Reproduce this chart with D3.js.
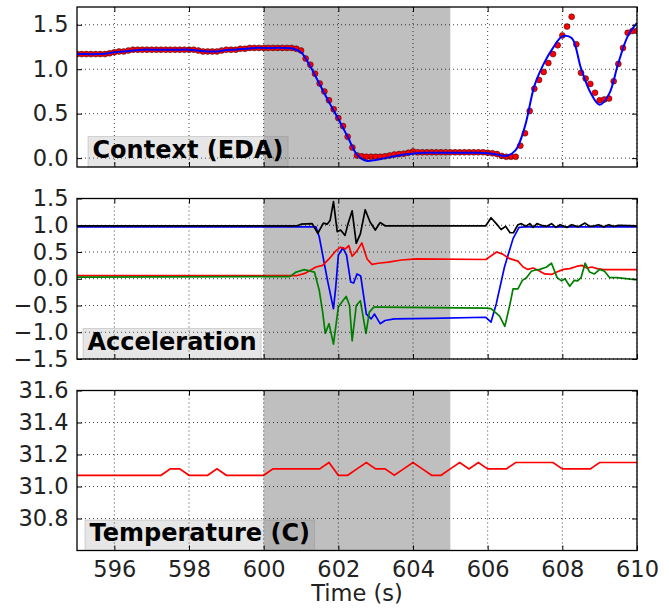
<!DOCTYPE html>
<html>
<head>
<meta charset="utf-8">
<script src="https://cdn.jsdelivr.net/npm/d3@7"></script>
<style>
  body { margin: 0; background: #fff; }
  svg text { font-family: "DejaVu Sans", sans-serif; }
</style>
</head>
<body>
<div id="chart"></div>
<script>
// ---- data ----
const xTicks = [596, 598, 600, 602, 604, 606, 608, 610];
const shadeSpan = [600, 605];

const edaTicks = [0.0, 0.5, 1.0, 1.5];
const accTicks = [-1.5, -1.0, -0.5, 0.0, 0.5, 1.0, 1.5];
const tempTicks = [30.8, 31.0, 31.2, 31.4, 31.6];

// raw EDA samples, 8 Hz starting at 595 s
const edaStart = 595;
const edaRate = 8;
const edaRaw = [
  1.17, 1.17, 1.17, 1.17, 1.17, 1.17, 1.17, 1.18,
  1.19, 1.20, 1.20, 1.21, 1.22, 1.22, 1.22, 1.22,
  1.22, 1.22, 1.22, 1.22, 1.22, 1.22, 1.22, 1.22,
  1.22, 1.22, 1.21, 1.20, 1.20, 1.20, 1.20, 1.21,
  1.22, 1.22, 1.22, 1.23, 1.23, 1.24, 1.24, 1.24,
  1.24, 1.24, 1.24, 1.24, 1.24, 1.24, 1.24, 1.23,
  1.21, 1.12, 1.05, 0.95, 0.84, 0.75, 0.65, 0.55,
  0.45, 0.36, 0.24, 0.12, 0.03, 0.02, 0.015, 0.015,
  0.015, 0.015, 0.02, 0.03, 0.04, 0.045, 0.05, 0.06,
  0.075, 0.065, 0.065, 0.065, 0.065, 0.065, 0.065, 0.065,
  0.065, 0.065, 0.065, 0.065, 0.065, 0.065, 0.065, 0.065,
  0.06, 0.055, 0.045, 0.025, 0.015, 0.015, 0.015, 0.14,
  0.28, 0.53, 0.78, 0.88, 0.97, 1.07, 1.17, 1.27,
  1.38, 1.48, 1.59, 1.28, 0.96, 0.895, 0.835, 0.735,
  0.65, 0.66, 0.67, 0.865, 1.06, 1.24, 1.41, 1.43,
  1.43
];

// smoothed EDA, 4 Hz
const edaSmoothRate = 4;
const edaSmooth = [
  1.17, 1.17, 1.17, 1.175,
  1.19, 1.20, 1.21, 1.22,
  1.22, 1.22, 1.22, 1.22,
  1.22, 1.21, 1.20, 1.20,
  1.215, 1.22, 1.23, 1.24,
  1.24, 1.24, 1.24, 1.235,
  1.19, 1.03, 0.83, 0.63,
  0.44, 0.24, 0.04, -0.03,
  -0.02, 0.0, 0.02, 0.04,
  0.05, 0.06, 0.06, 0.06,
  0.06, 0.06, 0.06, 0.06,
  0.055, 0.04, 0.025, 0.09,
  0.36, 0.81, 1.06, 1.24,
  1.37, 1.35, 1.01, 0.74,
  0.60, 0.72, 1.07, 1.37,
  1.52
];

// acceleration, [time, g]
const accMag = [
  [595, 0.99], [600.9, 0.99], [601.0, 1.02], [601.3, 1.03], [601.45, 0.85], [601.6, 1.04],
  [601.7, 1.02], [601.78, 1.09], [601.87, 1.44], [601.97, 0.88], [602.06, 0.91], [602.18, 0.81],
  [602.26, 1.03], [602.37, 1.27], [602.48, 0.66], [602.59, 0.84], [602.72, 1.29], [602.85, 1.06],
  [602.99, 0.91], [603.12, 1.05], [603.25, 0.99], [605.95, 0.99], [606.09, 1.14], [606.23, 1.03],
  [606.36, 0.92], [606.48, 0.98], [606.6, 0.86], [606.69, 0.86], [606.81, 1.01], [606.9, 1.03],
  [607.02, 0.98], [607.13, 1.03], [607.22, 0.96], [607.32, 1.03], [607.44, 1.0], [607.58, 0.98],
  [607.71, 1.03], [607.83, 0.96], [607.94, 1.01], [608.12, 0.96], [608.25, 1.01], [608.43, 0.97],
  [608.61, 1.04], [608.73, 0.98], [608.86, 0.99], [608.97, 1.01], [609.11, 0.97], [609.24, 1.01],
  [609.38, 0.98], [609.51, 1.0], [610, 0.99]
];
const accZ = [
  [595, 0.97], [601.4, 0.97], [601.49, 0.78], [601.71, -0.03], [601.87, -0.56], [601.93, -0.16],
  [602.0, 0.44], [602.12, 0.58], [602.22, 0.44], [602.33, -0.06], [602.41, -0.08], [602.5, 0.09],
  [602.6, 0.05], [602.75, -0.66], [602.88, -0.75], [602.97, -0.66], [603.12, -0.84], [603.25, -0.78],
  [603.5, -0.75], [604.5, -0.74], [605.95, -0.72], [606.09, -0.81], [606.23, -0.47], [606.45, 0.22],
  [606.68, 0.75], [606.84, 0.96], [607.0, 0.97], [610, 0.97]
];
const accX = [
  [595, 0.06], [600.9, 0.06], [601.1, 0.1], [601.4, 0.22], [601.58, 0.25], [601.75, 0.37],
  [601.93, 0.52], [602.06, 0.59], [602.19, 0.56], [602.28, 0.62], [602.37, 0.42], [602.5, 0.52],
  [602.63, 0.67], [602.77, 0.37], [602.9, 0.27], [603.07, 0.29], [603.34, 0.31], [603.69, 0.35],
  [604.1, 0.37], [605.95, 0.36], [606.24, 0.5], [606.4, 0.46], [606.59, 0.375], [606.81, 0.33],
  [606.95, 0.22], [607.08, 0.175], [607.22, 0.2], [607.35, 0.16], [607.53, 0.09], [607.71, 0.08],
  [607.85, 0.125], [608.03, 0.175], [608.2, 0.19], [608.38, 0.23], [608.52, 0.25], [608.66, 0.2],
  [608.79, 0.22], [608.93, 0.19], [609.11, 0.17], [610, 0.17]
];
const accY = [
  [595, 0.03], [600.7, 0.04], [600.87, 0.125], [601.09, 0.17], [601.36, 0.125], [601.49, -0.22],
  [601.58, -0.625], [601.65, -1.02], [601.75, -0.84], [601.87, -1.22], [602.0, -0.53], [602.12, -0.41],
  [602.21, -0.33], [602.3, -0.5], [602.37, -1.16], [602.48, -0.5], [602.59, -0.41], [602.74, -1.02],
  [602.83, -0.625], [602.95, -0.53], [603.12, -0.53], [605.95, -0.55], [606.09, -0.56], [606.32, -0.7],
  [606.46, -0.89], [606.59, -0.5], [606.68, -0.19], [606.81, -0.19], [606.93, -0.03], [607.04, 0.02],
  [607.17, 0.14], [607.26, 0.16], [607.4, 0.175], [607.58, 0.22], [607.71, 0.29], [607.86, 0.02],
  [607.98, -0.04], [608.07, 0.0], [608.2, -0.14], [608.32, -0.03], [608.41, -0.04], [608.5, 0.02],
  [608.61, 0.29], [608.73, 0.125], [608.86, 0.09], [609.0, 0.175], [609.13, 0.14], [609.27, 0.02],
  [609.47, 0.02], [610, -0.02]
];

// skin temperature, 4 Hz from 595 s
const tempRate = 4;
const temp = [
  31.07, 31.07, 31.07, 31.07, 31.07, 31.07, 31.07, 31.07, 31.07, 31.07,
  31.11, 31.11, 31.07, 31.07, 31.07, 31.11, 31.07, 31.07, 31.07, 31.07, 31.07,
  31.11, 31.11, 31.11, 31.11, 31.11, 31.11,
  31.15,
  31.07, 31.07, 31.11, 31.15,
  31.11, 31.11, 31.07, 31.11,
  31.15, 31.11, 31.07, 31.07,
  31.11, 31.15, 31.11, 31.15,
  31.11, 31.11, 31.11, 31.15,
  31.15, 31.15, 31.15, 31.15,
  31.11, 31.11, 31.11, 31.11,
  31.15, 31.15, 31.15, 31.15, 31.15
];

// ---- chart ----
const width = 669, height = 610;
const fontSize = 22.5;

const x = d3.scaleLinear().domain([595, 610]).range([77, 637]);

const svg = d3.select("#chart")
    .append("svg")
    .attr("width", width)
    .attr("height", height);

const drawEda = (g, y) => {
    g.append("g")
        .selectAll("circle")
        .data(edaRaw)
        .join("circle")
        .attr("cx", (d, i) => x(edaStart + i / edaRate))
        .attr("cy", d => y(d))
        .attr("r", 3)
        .attr("fill", "#ff0000")
        .attr("stroke", "#000")
        .attr("stroke-opacity", 0.6)
        .attr("stroke-width", 0.7);

    const line = d3.line()
        .x((d, i) => x(edaStart + i / edaSmoothRate))
        .y(d => y(d))
        .curve(d3.curveCatmullRom.alpha(0.5));

    g.append("path")
        .datum(edaSmooth)
        .attr("fill", "none")
        .attr("stroke", "#0000ff")
        .attr("stroke-width", 2)
        .attr("d", line);
};

const drawAcc = (g, y) => {
    const line = d3.line()
        .x(d => x(d[0]))
        .y(d => y(d[1]));

    const series = [
        {data: accZ, color: "#0000ff"},
        {data: accMag, color: "#000000"},
        {data: accX, color: "#ff0000"},
        {data: accY, color: "#008000"}
    ];

    g.selectAll("path")
        .data(series)
        .join("path")
        .attr("fill", "none")
        .attr("stroke", d => d.color)
        .attr("stroke-width", 1.7)
        .attr("stroke-linejoin", "round")
        .attr("d", d => line(d.data));
};

const drawTemp = (g, y) => {
    const line = d3.line()
        .x((d, i) => x(edaStart + i / tempRate))
        .y(d => y(d));

    g.append("path")
        .datum(temp)
        .attr("fill", "none")
        .attr("stroke", "#ff0000")
        .attr("stroke-width", 1.7)
        .attr("d", line);
};

const panels = [
    {key: "eda", top: 7, bottom: 167, domain: [-0.1, 1.7], ticks: edaTicks,
     label: "Context (EDA)", labelX: 92.5, draw: drawEda},
    {key: "acc", top: 198.5, bottom: 359, domain: [-1.5, 1.5], ticks: accTicks,
     label: "Acceleration", labelX: 87.5, draw: drawAcc},
    {key: "temp", top: 390.5, bottom: 550.5, domain: [30.6, 31.6], ticks: tempTicks,
     label: "Temperature (C)", labelX: 89.5, draw: drawTemp}
];

panels.forEach((p, idx) => {
    const y = d3.scaleLinear().domain(p.domain).range([p.bottom, p.top]);
    const [x0, x1] = x.range();
    const g = svg.append("g");

    g.append("clipPath")
        .attr("id", "clip-" + p.key)
        .append("rect")
        .attr("x", x0).attr("y", p.top)
        .attr("width", x1 - x0).attr("height", p.bottom - p.top);

    // event window
    g.append("rect")
        .attr("x", x(shadeSpan[0]))
        .attr("y", p.top)
        .attr("width", x(shadeSpan[1]) - x(shadeSpan[0]))
        .attr("height", p.bottom - p.top)
        .attr("fill", "#808080")
        .attr("fill-opacity", 0.5);

    const plot = g.append("g").attr("clip-path", `url(#clip-${p.key})`);
    p.draw(plot, y);

    // dotted grid
    const grid = g.append("g")
        .attr("stroke", "#000")
        .attr("stroke-width", 1)
        .attr("stroke-opacity", 0.75)
        .attr("stroke-dasharray", "1,3");
    grid.selectAll(".gx")
        .data(xTicks)
        .join("line")
        .attr("x1", d => x(d)).attr("x2", d => x(d))
        .attr("y1", p.top).attr("y2", p.bottom);
    grid.selectAll(".gy")
        .data(p.ticks)
        .join("line")
        .attr("x1", x0).attr("x2", x1)
        .attr("y1", d => y(d)).attr("y2", d => y(d));

    // label with translucent box
    const lab = g.append("g");
    const baseline = p.bottom - 9.5;
    const box = lab.append("rect");
    const txt = lab.append("text")
        .attr("x", p.labelX)
        .attr("y", baseline)
        .attr("font-size", 24)
        .attr("font-weight", "bold")
        .attr("fill", "#000")
        .text(p.label);
    const w = txt.node().getComputedTextLength();
    box.attr("x", p.labelX - 4.5)
        .attr("y", baseline - 21)
        .attr("width", w + 9)
        .attr("height", p.bottom - (baseline - 21))
        .attr("fill", "#808080")
        .attr("fill-opacity", 0.2)
        .attr("stroke", "#808080")
        .attr("stroke-opacity", 0.3);

    // axes, ticks pointing in
    const styleAxis = a => a
        .call(a => a.select(".domain").remove())
        .call(a => a.selectAll(".tick line").attr("stroke-width", 1))
        .call(a => a.selectAll(".tick text")
            .attr("font-size", fontSize)
            .attr("font-family", "DejaVu Sans, sans-serif")
            .attr("fill", "#222"));

    g.append("g")
        .attr("transform", `translate(${x0},0)`)
        .call(d3.axisLeft(y).tickValues(p.ticks).tickFormat(d3.format(".1f")).tickSize(-5).tickPadding(8.5))
        .call(styleAxis);

    g.append("g")
        .attr("transform", `translate(${x1},0)`)
        .call(d3.axisRight(y).tickValues(p.ticks).tickFormat("").tickSize(-5))
        .call(styleAxis);

    g.append("g")
        .attr("transform", `translate(0,${p.top})`)
        .call(d3.axisTop(x).tickValues(xTicks).tickFormat("").tickSize(-5))
        .call(styleAxis);

    g.append("g")
        .attr("transform", `translate(0,${p.bottom})`)
        .call(d3.axisBottom(x).tickValues(xTicks)
            .tickFormat(idx === panels.length - 1 ? d3.format("d") : "")
            .tickSize(-5).tickPadding(11))
        .call(styleAxis);

    // frame
    g.append("rect")
        .attr("x", x0).attr("y", p.top)
        .attr("width", x1 - x0).attr("height", p.bottom - p.top)
        .attr("fill", "none")
        .attr("stroke", "#000")
        .attr("stroke-width", 1.3);
});

svg.append("text")
    .attr("x", (x.range()[0] + x.range()[1]) / 2)
    .attr("y", 601)
    .attr("text-anchor", "middle")
    .attr("font-size", fontSize)
    .attr("fill", "#222")
    .text("Time (s)");
</script>
</body>
</html>
